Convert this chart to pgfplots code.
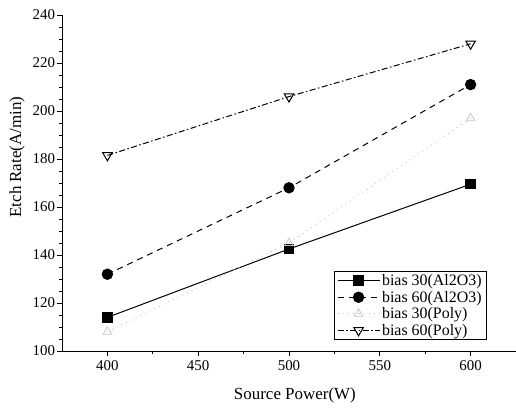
\documentclass[border=0pt]{standalone}
\usepackage{fontspec}
\setmainfont{Liberation Serif}
\usepackage{pgfplots}
\pgfplotsset{compat=1.18}

\begin{document}
\begin{tikzpicture}
\useasboundingbox (-62bp,-59bp) rectangle (454bp,351bp);
\begin{axis}[
  at={(0,0)}, anchor=south west,
  scale only axis,
  width=454bp, height=336bp,
  xmin=375, xmax=625,
  ymin=100, ymax=240,
  axis x line=bottom, axis y line=left,
  axis line style={-, line width=0.9pt},
  xtick={400,450,...,600},
  ytick={100,120,...,240},
  minor x tick num=1,
  minor y tick num=3,
  tick align=outside,
  major tick length=5bp, minor tick length=3bp,
  tick style={black, line width=0.7pt},
  ticklabel style={font=\fontsize{15}{16}\selectfont},
  yticklabel style={xshift=1.5bp},
  xticklabel style={yshift=-1bp},
  /pgf/number format/assume math mode=true,
  xlabel={Source Power(W)},
  ylabel={Etch Rate(A/min)},
  label style={font=\fontsize{17}{18}\selectfont},
  xlabel style={at={(axis description cs:0.513,0)}, anchor=center, yshift=-44bp},
  ylabel style={at={(axis description cs:0,0.577)}, anchor=center, yshift=45bp},
  legend cell align=left,
  legend style={at={(0.936,0.033)}, anchor=south east,
    font=\fontsize{16}{21}\selectfont, draw=black, line width=0.6pt,
    inner xsep=3bp, inner ysep=1bp},
  legend image code/.code={
    \draw[mark repeat=2,mark phase=2] plot coordinates {(0cm,0cm) (0.74cm,0cm) (1.48cm,0cm)};
  },
]
\addplot[black, solid, line width=1pt, mark=square*, mark size=4.8pt, mark options={solid}]
  coordinates {(400,114) (500,142.5) (600,169.5)};
\addplot[black, dash pattern=on 6bp off 5bp, line width=1pt, mark=*, mark size=5.2pt, mark options={solid}]
  coordinates {(400,132) (500,168) (600,211)};
\addplot[black!22, dash pattern=on 1.2bp off 4bp, line width=0.8pt, mark=triangle, mark size=5pt, mark options={solid}]
  coordinates {(400,108) (500,145) (600,197)};
\addplot[black, dash pattern=on 6bp off 2.5bp on 1.5bp off 2.5bp, line width=1pt, mark=triangle, mark size=5.5pt, mark options={solid, rotate=180, fill=white}]
  coordinates {(400,181.5) (500,206) (600,228)};
\legend{bias 30(Al2O3), bias 60(Al2O3), bias 30(Poly), bias 60(Poly)}
\end{axis}
\end{tikzpicture}
\end{document}
